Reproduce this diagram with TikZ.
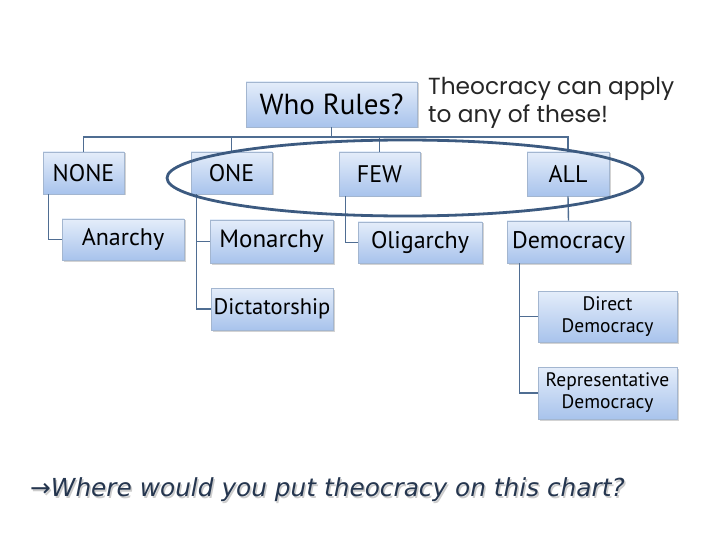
\documentclass[tikz,border=0pt]{standalone}
\usepackage{fontspec}
\setmainfont{PT Sans}
\newfontfamily\handfont{Poppins}
\newfontfamily\qfont{DejaVu Sans}
\usetikzlibrary{shadows,shapes.geometric}
\definecolor{linec}{HTML}{4F6D92}
\definecolor{boxedge}{HTML}{A3B6D0}
\definecolor{boxtop}{HTML}{E4EDFA}
\definecolor{boxbot}{HTML}{A8C3EC}
\definecolor{ellc}{HTML}{3C5A80}
\definecolor{qcol}{HTML}{25364F}
\tikzset{
  orgbox/.style={draw=boxedge, line width=0.8pt, top color=boxtop, bottom color=boxbot,
    minimum width=#1, inner sep=2pt, align=center, font=\fontsize{24}{24}\selectfont,
    drop shadow={shadow xshift=1.5pt, shadow yshift=-1.5pt, opacity=0.35, fill=gray}},
  conn/.style={draw=linec, line width=1.4pt}
}
\begin{document}
\begin{tikzpicture}[x=1pt,y=-1pt]
\useasboundingbox (0,0) rectangle (720,540);
\coordinate (bus) at (0,137);
\node[orgbox=171pt, minimum height=45pt, font=\fontsize{29}{29}\selectfont] (who) at (331.5,104.5) {Who Rules?};
\node[orgbox=81pt, minimum height=42pt] (none) at (83.5,173) {NONE};
\node[orgbox=81pt, minimum height=42pt] (one) at (231.5,173) {ONE};
\node[orgbox=81pt, minimum height=44pt] (few) at (379.5,174) {FEW};
\node[orgbox=82pt, minimum height=44pt] (all) at (568,174) {ALL};
\node[orgbox=122pt, minimum height=41pt] (anarchy) at (123,239.5) {Anarchy};
\node[orgbox=123pt, minimum height=43pt, font=\fontsize{25}{25}\selectfont] (monarchy) at (271.5,241.5) {Monarchy};
\node[orgbox=124pt, minimum height=41pt] (oligarchy) at (420,242.5) {Oligarchy};
\node[orgbox=123pt, minimum height=42pt] (democracy) at (568.5,242) {Democracy};
\node[orgbox=122pt, minimum height=42pt, font=\fontsize{22.5}{22.5}\selectfont] (dictatorship) at (272,309) {Dictatorship};
\node[orgbox=139pt, minimum height=51pt, font=\fontsize{19.5}{22}\selectfont] (direct) at (607.5,316.5) {Direct\\Democracy};
\node[orgbox=139pt, minimum height=52pt, font=\fontsize{19.5}{22}\selectfont] (rep) at (607.5,393) {Representative\\Democracy};
% branch points
\coordinate (noneb) at ([xshift=6pt]none.south west);
\coordinate (oneb) at ([xshift=6pt]one.south west);
\coordinate (fewb) at ([xshift=7pt]few.south west);
\coordinate (demb) at ([xshift=13pt]democracy.south west);
% connectors
\draw[conn] (who.south) -- (who.south |- bus);
\draw[conn] (none.north) -- (none.north |- bus) -- (all.north |- bus) -- (all.north);
\draw[conn] (one.north) -- (one.north |- bus);
\draw[conn] (few.north) -- (few.north |- bus);
\draw[conn] (noneb) |- (anarchy.west);
\draw[conn] (oneb) |- (dictatorship.west);
\draw[conn] (monarchy.west) -- (monarchy.west -| oneb);
\draw[conn] (fewb) |- (oligarchy.west);
\draw[conn] (all.south) -- (democracy.north);
\draw[conn] (demb) |- (rep.west);
\draw[conn] (direct.west) -- (direct.west -| demb);
% ellipse
\node[draw=ellc, line width=2.8pt, ellipse, minimum width=476pt, minimum height=76pt, inner sep=0pt] (oval) at (405,178) {};
% handwriting note
\node[anchor=north west, align=left, inner sep=0pt, text=black!85, font=\handfont\fontsize{23.3}{28}\selectfont] (note) at (428,77) {Theocracy can apply\\to any of these!};
% question
\node[anchor=west, inner sep=0pt, text=gray!40] (qshadow) at (31.5,491.5) {\qfont\itshape\fontsize{24.8}{24.8}\selectfont →Where would you put theocracy on this chart?};
\node[anchor=west, inner sep=0pt, text=qcol] (question) at (30,490) {\qfont\itshape\fontsize{24.8}{24.8}\selectfont →Where would you put theocracy on this chart?};
\end{tikzpicture}
\end{document}
